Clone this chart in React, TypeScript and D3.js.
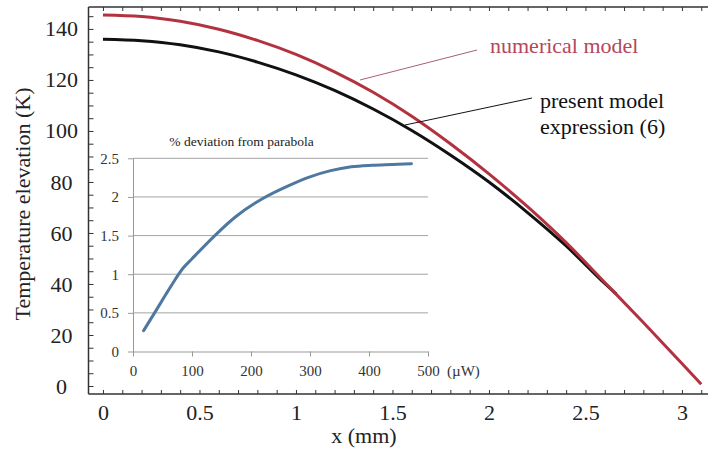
import React, { useEffect, useRef } from "react";
import * as d3 from "d3";

// main chart: temperature elevation (K) vs x (mm)
const NUM_X = [0, 0.2, 0.4, 0.6, 0.8, 1.0, 1.2, 1.4, 1.6, 1.8, 2.0, 2.2, 2.4, 2.6, 2.8, 3.0, 3.1];
const NUM_T = [145.5, 144.9, 143.0, 139.9, 135.5, 130.0, 123.2, 115.2, 105.8, 95.0, 83.2, 70.3, 56.2, 40.6, 24.9, 8.8, 0.7];

const MODEL_X = [0, 0.2, 0.4, 0.6, 0.8, 1.0, 1.2, 1.4, 1.6, 1.8, 2.0, 2.2, 2.4, 2.6, 2.66];
const MODEL_T = [136, 135.4, 133.8, 131.0, 127.0, 122.0, 115.9, 108.6, 100.2, 90.6, 80.0, 68.0, 54.9, 40.2, 36.0];

const X_TICKS = [0, 0.5, 1, 1.5, 2, 2.5, 3];
const Y_TICKS = [0, 20, 40, 60, 80, 100, 120, 140];

// inset: % deviation from parabola vs power (µW)
const DEV_P = [18, 35, 55, 68, 85, 100, 140, 175, 220, 265, 300, 335, 370, 405, 440, 472];
const DEV_PCT = [0.27, 0.48, 0.73, 0.89, 1.08, 1.2, 1.51, 1.75, 1.98, 2.15, 2.26, 2.34, 2.39, 2.41, 2.42, 2.43];

const INSET_X_TICKS = [0, 100, 200, 300, 400, 500];
const INSET_Y_TICKS = [0, 0.5, 1, 1.5, 2, 2.5];

const SERIF = "Liberation Serif, Tinos, Times New Roman, DejaVu Serif, serif";

const App: React.FC = () => {
  const svgRef = useRef<SVGSVGElement>(null);

  useEffect(() => {
    if (!svgRef.current) return;
    const svg = d3.select(svgRef.current);
    svg.selectAll("*").remove();

    const left = 88.5;
    const right = 708;
    const top = 7;
    const bottom = 394;

    const x = d3.scaleLinear().domain([-0.075, 3.135]).range([left, right]);
    const y = d3.scaleLinear().domain([-3.14, 148.6]).range([bottom, top]);

    // frame
    const frame = svg.append("g").attr("stroke", "#333").attr("stroke-width", 1.5);
    frame.append("line").attr("x1", left).attr("x2", right).attr("y1", top).attr("y2", top);
    frame.append("line").attr("x1", left).attr("x2", right).attr("y1", bottom).attr("y2", bottom);
    frame.append("line").attr("x1", left).attr("x2", left).attr("y1", top).attr("y2", bottom);

    const xMinor = d3.range(0, 3.101, 0.1).map((v) => +v.toFixed(1));
    const yMinor = d3.range(0, 146, 5);

    // inward tick marks
    const tickStyle = (g: d3.Selection<SVGGElement, unknown, null, undefined>) => {
      g.select(".domain").remove();
      g.selectAll("line").attr("stroke", "#333").attr("stroke-width", 1);
    };

    svg
      .append("g")
      .attr("transform", `translate(0,${bottom})`)
      .call(d3.axisTop(x).tickValues(xMinor).tickSize(4).tickFormat(() => ""))
      .call(tickStyle);
    svg
      .append("g")
      .attr("transform", `translate(0,${top})`)
      .call(d3.axisBottom(x).tickValues(xMinor).tickSize(4).tickFormat(() => ""))
      .call(tickStyle);
    svg
      .append("g")
      .attr("transform", `translate(${left},0)`)
      .call(d3.axisRight(y).tickValues(yMinor).tickSize(5).tickFormat(() => ""))
      .call(tickStyle);

    // tick labels
    const xLab = svg
      .append("g")
      .attr("transform", `translate(0,${bottom})`)
      .call(d3.axisBottom(x).tickValues(X_TICKS).tickSize(0).tickPadding(10).tickFormat((d) => String(d)));
    xLab.select(".domain").remove();
    xLab.attr("font-family", SERIF).attr("font-size", 22);
    xLab.selectAll("text").attr("fill", "#222");

    const yLab = svg
      .append("g")
      .attr("transform", `translate(${left},0)`)
      .call(d3.axisLeft(y).tickValues(Y_TICKS).tickSize(0).tickFormat((d) => String(d)));
    yLab.select(".domain").remove();
    yLab.attr("font-family", SERIF).attr("font-size", 22);
    yLab.selectAll("text").attr("x", -27).attr("text-anchor", "middle").attr("fill", "#222");

    const label = (tx: number, ty: number, txt: string, size: number, fill: string, anchor = "start") =>
      svg
        .append("text")
        .attr("x", tx)
        .attr("y", ty)
        .attr("text-anchor", anchor)
        .attr("font-family", SERIF)
        .attr("font-size", size)
        .attr("fill", fill)
        .text(txt);

    // axis titles
    label(364, 443, "x (mm)", 22, "#222", "middle");
    label(0, 0, "Temperature elevation (K)", 22, "#222", "middle").attr(
      "transform",
      "translate(30,204) rotate(-90)"
    );

    // inset
    const ix = d3.scaleLinear().domain([0, 500]).range([133, 428]);
    const iy = d3.scaleLinear().domain([0, 2.5]).range([351.5, 158.3]);

    svg
      .append("g")
      .selectAll("line")
      .data(INSET_Y_TICKS.filter((v) => v > 0))
      .enter()
      .append("line")
      .attr("x1", ix(0))
      .attr("x2", ix(500))
      .attr("y1", (d) => iy(d))
      .attr("y2", (d) => iy(d))
      .attr("stroke", "#a3a3a3")
      .attr("stroke-width", 1);

    const ixAxis = svg
      .append("g")
      .attr("transform", `translate(0,${iy(0)})`)
      .call(d3.axisBottom(ix).tickValues(INSET_X_TICKS).tickSize(5).tickPadding(9).tickSizeOuter(0));
    ixAxis.attr("font-family", SERIF).attr("font-size", 15);
    ixAxis.select(".domain").attr("stroke", "#999");
    ixAxis.selectAll("line").attr("stroke", "#999");
    ixAxis.selectAll("text").attr("fill", "#333");

    const iyAxis = svg
      .append("g")
      .attr("transform", `translate(${ix(0)},0)`)
      .call(
        d3
          .axisLeft(iy)
          .tickValues(INSET_Y_TICKS)
          .tickSize(5)
          .tickPadding(9)
          .tickSizeOuter(0)
          .tickFormat((d) => String(d))
      );
    iyAxis.attr("font-family", SERIF).attr("font-size", 15);
    iyAxis.select(".domain").attr("stroke", "#999");
    iyAxis.selectAll("line").attr("stroke", "#999");
    iyAxis.selectAll("text").attr("fill", "#333");

    label(447, 376, "(µW)", 15, "#333");
    label(241.5, 146, "% deviation from parabola", 13.5, "#222", "middle");

    const devLine = d3
      .line<number>()
      .x((d, i) => ix(DEV_P[i]))
      .y((d) => iy(d))
      .curve(d3.curveMonotoneX);

    svg
      .append("path")
      .attr("d", devLine(DEV_PCT))
      .attr("fill", "none")
      .attr("stroke", "#4f78a0")
      .attr("stroke-width", 3)
      .attr("stroke-linecap", "round");

    // main curves
    const modelLine = d3
      .line<number>()
      .x((d, i) => x(MODEL_X[i]))
      .y((d) => y(d))
      .curve(d3.curveMonotoneX);
    const numLine = d3
      .line<number>()
      .x((d, i) => x(NUM_X[i]))
      .y((d) => y(d))
      .curve(d3.curveMonotoneX);

    svg
      .append("path")
      .attr("d", modelLine(MODEL_T))
      .attr("fill", "none")
      .attr("stroke", "#111")
      .attr("stroke-width", 3);

    svg
      .append("path")
      .attr("d", numLine(NUM_T))
      .attr("fill", "none")
      .attr("stroke", "#b3323f")
      .attr("stroke-width", 3);

    // annotations
    svg
      .append("line")
      .attr("x1", 477)
      .attr("y1", 50)
      .attr("x2", 360)
      .attr("y2", 80)
      .attr("stroke", "#a86070")
      .attr("stroke-width", 1);
    label(490, 53, "numerical model", 22, "#b5475a");

    svg
      .append("line")
      .attr("x1", 532)
      .attr("y1", 98)
      .attr("x2", 405)
      .attr("y2", 125)
      .attr("stroke", "#111")
      .attr("stroke-width", 1);
    label(540, 108, "present model", 22, "#111");
    label(540, 134, "expression (6)", 22, "#111");
  }, []);

  return (
    <svg
      ref={svgRef}
      width={708}
      height={452}
      style={{ position: "absolute", left: 0, top: 0, background: "#fff" }}
    />
  );
};

export default App;
